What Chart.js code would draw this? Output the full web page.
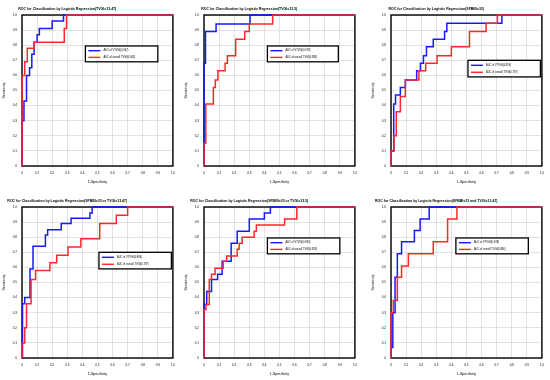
<!DOCTYPE html>
<html lang="en">
<head>
<meta charset="UTF-8">
<title>ROC curves</title>
<script src="https://cdn.jsdelivr.net/npm/chart.js"></script>
<style>
    body { margin: 0; background: #fff; }
    #wrap { position: relative; width: 550px; height: 380px; overflow: hidden; }
    #wrap canvas { position: absolute; }
</style>
</head>
<body>
<div id="wrap">
    <canvas id="roc1" width="180" height="190" style="left:0;top:0"></canvas>
    <canvas id="roc2" width="180" height="190" style="left:182px;top:0"></canvas>
    <canvas id="roc3" width="180" height="190" style="left:369px;top:0"></canvas>
    <canvas id="roc4" width="180" height="190" style="left:0;top:192px"></canvas>
    <canvas id="roc5" width="180" height="190" style="left:182px;top:192px"></canvas>
    <canvas id="roc6" width="180" height="190" style="left:369px;top:192px"></canvas>
</div>
<script>
// tick labels for both axes
const axisTicks = [0, 0.1, 0.2, 0.3, 0.4, 0.5, 0.6, 0.7, 0.8, 0.9, 1];

const titles = [
    'ROC for Classification by Logistic Regression(TVGI=13.47)',
    'ROC for Classification by Logistic Regression(TVGI=13.5)',
    'ROC for Classification by Logistic Regression(SFBBI=33)',
    'ROC for Classification by Logistic Regression(SFBBI=33 or TVGI=13.47)',
    'ROC for Classification by Logistic Regression(SFBBI=33 or TVGI=13.5)',
    'ROC for Classification by Logistic Regression(SFBBI=33 and TVGI=13.47)'
];
const vtvgiLabels = ['AUC of VTVGI(0.967)', 'AUC of VTVGI(0.978)', 'AUC of VTVGI(0.859)',
    'AUC of VTVGI(0.886)', 'AUC of VTVGI(0.863)', 'AUC of VTVGI(0.938)'];
const overallLabels = ['AUC of overall TVGI(0.943)', 'AUC of overall TVGI(0.883)', 'AUC of overall TVGI(0.797)',
    'AUC of overall TVGI(0.787)', 'AUC of overall TVGI(0.853)', 'AUC of overall TVGI(0.886)'];

// ROC points (1-specificity, sensitivity), VTVGI = blue, overall TVGI = red
const vtvgiFpr1 = [0, 0, 0.013, 0.013, 0.03, 0.03, 0.05, 0.05, 0.065, 0.065, 0.08, 0.08, 0.1, 0.1, 0.115, 0.115, 0.2, 0.2, 0.275, 0.275, 1];
const vtvgiTpr1 = [0, 0.3, 0.3, 0.43, 0.43, 0.6, 0.6, 0.65, 0.65, 0.74, 0.74, 0.82, 0.82, 0.87, 0.87, 0.91, 0.91, 0.96, 0.96, 1, 1];
const overallFpr1 = [0, 0, 0.018, 0.018, 0.035, 0.035, 0.08, 0.08, 0.28, 0.28, 0.295, 0.295, 1];
const overallTpr1 = [0, 0.6, 0.6, 0.69, 0.69, 0.78, 0.78, 0.82, 0.82, 0.91, 0.91, 1, 1];

const vtvgiFpr2 = [0, 0, 0.01, 0.01, 0.08, 0.08, 0.305, 0.305, 1];
const vtvgiTpr2 = [0, 0.68, 0.68, 0.89, 0.89, 0.94, 0.94, 1, 1];
const overallFpr2 = [0, 0, 0.012, 0.012, 0.062, 0.062, 0.075, 0.075, 0.092, 0.092, 0.14, 0.14, 0.155, 0.155, 0.21, 0.21, 0.27, 0.27, 0.3, 0.3, 0.455, 0.455, 1];
const overallTpr2 = [0, 0.15, 0.15, 0.41, 0.41, 0.52, 0.52, 0.57, 0.57, 0.63, 0.63, 0.68, 0.68, 0.73, 0.73, 0.84, 0.84, 0.89, 0.89, 0.94, 0.94, 1, 1];

const vtvgiFpr3 = [0, 0, 0.018, 0.018, 0.03, 0.03, 0.062, 0.062, 0.095, 0.095, 0.17, 0.17, 0.195, 0.195, 0.215, 0.215, 0.235, 0.235, 0.28, 0.28, 0.355, 0.355, 0.37, 0.37, 0.735, 0.735, 1];
const vtvgiTpr3 = [0, 0.1, 0.1, 0.41, 0.41, 0.47, 0.47, 0.52, 0.52, 0.57, 0.57, 0.63, 0.63, 0.68, 0.68, 0.73, 0.73, 0.79, 0.79, 0.84, 0.84, 0.89, 0.89, 0.945, 0.945, 1, 1];
const overallFpr3 = [0, 0, 0.02, 0.02, 0.035, 0.035, 0.062, 0.062, 0.095, 0.095, 0.185, 0.185, 0.23, 0.23, 0.305, 0.305, 0.4, 0.4, 0.52, 0.52, 0.63, 0.63, 0.705, 0.705, 1];
const overallTpr3 = [0, 0.1, 0.1, 0.2, 0.2, 0.36, 0.36, 0.46, 0.46, 0.57, 0.57, 0.63, 0.63, 0.68, 0.68, 0.73, 0.73, 0.79, 0.79, 0.89, 0.89, 0.945, 0.945, 1, 1];

const vtvgiFpr4 = [0, 0, 0.005, 0.005, 0.018, 0.018, 0.053, 0.053, 0.073, 0.073, 0.155, 0.155, 0.17, 0.17, 0.26, 0.26, 0.325, 0.325, 0.45, 0.45, 0.465, 0.465, 1];
const vtvgiTpr4 = [0, 0.1, 0.1, 0.36, 0.36, 0.4, 0.4, 0.59, 0.59, 0.74, 0.74, 0.815, 0.815, 0.85, 0.85, 0.89, 0.89, 0.925, 0.925, 0.96, 0.96, 1, 1];
const overallFpr4 = [0, 0, 0.018, 0.018, 0.03, 0.03, 0.06, 0.06, 0.09, 0.09, 0.185, 0.185, 0.23, 0.23, 0.305, 0.305, 0.39, 0.39, 0.515, 0.515, 0.625, 0.625, 0.7, 0.7, 1];
const overallTpr4 = [0, 0.1, 0.1, 0.2, 0.2, 0.36, 0.36, 0.52, 0.52, 0.58, 0.58, 0.63, 0.63, 0.68, 0.68, 0.735, 0.735, 0.79, 0.79, 0.89, 0.89, 0.945, 0.945, 1, 1];

const vtvgiFpr5 = [0, 0, 0.018, 0.018, 0.05, 0.05, 0.09, 0.09, 0.12, 0.12, 0.18, 0.18, 0.22, 0.22, 0.3, 0.3, 0.4, 0.4, 0.44, 0.44, 1];
const vtvgiTpr5 = [0, 0.355, 0.355, 0.44, 0.44, 0.52, 0.52, 0.555, 0.555, 0.64, 0.64, 0.76, 0.76, 0.84, 0.84, 0.92, 0.92, 0.96, 0.96, 1, 1];
const overallFpr5 = [0, 0, 0.013, 0.013, 0.035, 0.035, 0.05, 0.05, 0.073, 0.073, 0.127, 0.127, 0.15, 0.15, 0.22, 0.22, 0.233, 0.233, 0.253, 0.253, 0.332, 0.332, 0.347, 0.347, 0.534, 0.534, 0.615, 0.615, 1];
const overallTpr5 = [0, 0.32, 0.32, 0.355, 0.355, 0.52, 0.52, 0.555, 0.555, 0.595, 0.595, 0.64, 0.64, 0.675, 0.675, 0.72, 0.72, 0.76, 0.76, 0.8, 0.8, 0.84, 0.84, 0.88, 0.88, 0.92, 0.92, 1, 1];

const vtvgiFpr6 = [0, 0, 0.012, 0.012, 0.027, 0.027, 0.042, 0.042, 0.07, 0.07, 0.155, 0.155, 0.193, 0.193, 0.253, 0.253, 1];
const vtvgiTpr6 = [0, 0.07, 0.07, 0.3, 0.3, 0.535, 0.535, 0.69, 0.69, 0.77, 0.77, 0.845, 0.845, 0.92, 0.92, 1, 1];
const overallFpr6 = [0, 0, 0.015, 0.015, 0.042, 0.042, 0.07, 0.07, 0.115, 0.115, 0.28, 0.28, 0.375, 0.375, 0.437, 0.437, 1];
const overallTpr6 = [0, 0.3, 0.3, 0.38, 0.38, 0.535, 0.535, 0.61, 0.61, 0.69, 0.69, 0.77, 0.77, 0.92, 0.92, 1, 1];

const curves = [
    [vtvgiFpr1, vtvgiTpr1, overallFpr1, overallTpr1],
    [vtvgiFpr2, vtvgiTpr2, overallFpr2, overallTpr2],
    [vtvgiFpr3, vtvgiTpr3, overallFpr3, overallTpr3],
    [vtvgiFpr4, vtvgiTpr4, overallFpr4, overallTpr4],
    [vtvgiFpr5, vtvgiTpr5, overallFpr5, overallTpr5],
    [vtvgiFpr6, vtvgiTpr6, overallFpr6, overallTpr6]
];

// legend box inside plot, as fractions of the plot area [x0, y0, x1, y1]
const keyBoxes = [
    [0.42, 0.205, 0.90, 0.31],
    [0.42, 0.205, 0.89, 0.31],
    [0.51, 0.30, 0.99, 0.41],
    [0.51, 0.30, 0.99, 0.41],
    [0.42, 0.205, 0.90, 0.31],
    [0.43, 0.205, 0.91, 0.31]
];

const FONT = 'Liberation Sans, Arial, sans-serif';
const BLUE = 'rgb(25,25,255)';
const RED = 'rgb(255,40,40)';

// frame + title under the curves, legend box on top (like the matlab figure)
const frameAndKey = {
    id: 'frameAndKey',
    beforeDatasetsDraw(chart, args, opts) {
        const ctx = chart.ctx, a = chart.chartArea;
        ctx.save();
        ctx.strokeStyle = '#000';
        ctx.lineWidth = 1.4;
        ctx.strokeRect(a.left, a.top, a.width, a.height);

        ctx.fillStyle = '#000';
        ctx.font = 'bold 3.5px ' + FONT;
        ctx.textAlign = 'center';
        ctx.textBaseline = 'middle';
        ctx.fillText(opts.title, a.left + 0.3 * a.width, a.top - 6);
        ctx.restore();
    },
    afterDatasetsDraw(chart, args, opts) {
        const ctx = chart.ctx, a = chart.chartArea;
        const k = opts.box;
        const x = a.left + k[0] * a.width, y = a.top + k[1] * a.height;
        const w = (k[2] - k[0]) * a.width, h = (k[3] - k[1]) * a.height;
        ctx.save();
        ctx.fillStyle = '#fff';
        ctx.fillRect(x, y, w, h);
        ctx.strokeStyle = '#000';
        ctx.lineWidth = 1.3;
        ctx.strokeRect(x, y, w, h);
        ctx.textAlign = 'left';
        ctx.textBaseline = 'middle';
        ctx.font = '2.6px ' + FONT;
        chart.data.datasets.forEach((ds, i) => {
            const ry = y + h * (i === 0 ? 0.3 : 0.72);
            ctx.strokeStyle = ds.borderColor;
            ctx.lineWidth = 1.4;
            ctx.beginPath();
            ctx.moveTo(x + 3, ry);
            ctx.lineTo(x + 15, ry);
            ctx.stroke();
            ctx.fillStyle = '#000';
            ctx.fillText(ds.label, x + 18, ry);
        });
        ctx.restore();
    }
};

function axis(title, isX) {
    return {
        type: 'linear',
        min: 0,
        max: 1,
        afterBuildTicks: s => { s.ticks = axisTicks.map(v => ({ value: v })); },
        afterFit: s => { if (isX) s.height = 24; else s.width = 22; },
        grid: { color: '#cfcfcf', lineWidth: 0.6, drawTicks: false },
        border: { display: false },
        ticks: { font: { size: 3, family: FONT }, color: '#000', padding: 5, maxRotation: 0, autoSkip: false },
        title: {
            display: true,
            text: title,
            color: '#000',
            font: { size: 3.6, family: FONT },
            padding: isX ? { top: 0, bottom: 5.8 } : { top: 1.5, bottom: 0 }
        }
    };
}

curves.forEach((c, i) => {
    const ctx = document.getElementById('roc' + (i + 1)).getContext('2d');
    new Chart(ctx, {
        type: 'line',
        data: {
            datasets: [{
                label: vtvgiLabels[i],
                data: c[0].map((x, j) => ({ x: x, y: c[1][j] })),
                borderColor: BLUE,
                borderWidth: 1.5,
                pointRadius: 0,
                tension: 0,
                clip: 2,
                order: 1
            }, {
                label: overallLabels[i],
                data: c[2].map((x, j) => ({ x: x, y: c[3][j] })),
                borderColor: RED,
                borderWidth: 1.5,
                pointRadius: 0,
                tension: 0,
                clip: 2,
                order: 0
            }]
        },
        options: {
            responsive: false,
            animation: false,
            layout: { padding: { top: 15, right: 7, bottom: 0, left: 0 } },
            scales: {
                x: axis('1-Specificity', true),
                y: axis('Sensitivity', false)
            },
            plugins: {
                legend: { display: false },
                title: { display: false },
                tooltip: { enabled: false },
                frameAndKey: { title: titles[i], box: keyBoxes[i] }
            }
        },
        plugins: [frameAndKey]
    });
});
</script>
</body>
</html>
